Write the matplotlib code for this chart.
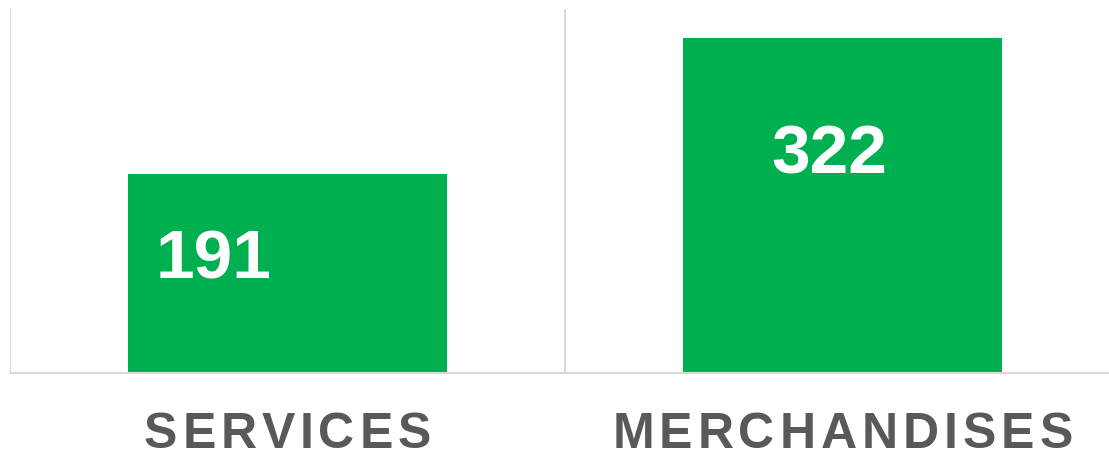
import matplotlib
matplotlib.use('Agg')
import matplotlib.pyplot as plt
from matplotlib.font_manager import FontProperties

categories = ['SERVICES', 'MERCHANDISES']
values = [191, 322]
# label anchor points inside the bars (data units), as placed in the source chart
label_x = [-0.134, -0.024]
label_y = [108.6, 209.6]

plt.rcParams['font.family'] = ['Liberation Sans', 'DejaVu Sans']

W, H = 1109, 459
fig = plt.figure(figsize=(W / 100, H / 100), dpi=100)
# axes spans px x 10..1120, y 9..373 (top-down); runs past the right edge like the source
ax = fig.add_axes([10 / W, (H - 373) / H, 1110 / W, 364 / H])

x = list(range(len(categories)))
ax.bar(x, values, width=0.573, color='#00B050', zorder=2)
ax.set_xlim(-0.5, len(categories) - 0.5)
ax.set_ylim(0, 350)

for xi, v, lx, ly in zip(x, values, label_x, label_y):
    ax.text(xi + lx, ly, str(v), ha='center', va='center', color='white',
            fontsize=50, fontweight='bold')

# category separators
for b in [-0.5, 0.5]:
    ax.axvline(b, color='#D9D9D9', lw=1.5, zorder=1)

for s in ['top', 'right', 'left']:
    ax.spines[s].set_visible(False)
ax.spines['bottom'].set_color('#D9D9D9')
ax.spines['bottom'].set_linewidth(1.5)
ax.set_yticks([])
ax.set_xticks([])

# category labels, drawn letter by letter to get the wide tracking
prop = FontProperties(family='Liberation Sans', weight='bold', size=36)
renderer = fig.canvas.get_renderer()
spacing = 5  # px between letters
baseline = 448  # px from top


def text_w(s):
    if not s:
        return 0
    w, h, d = renderer.get_text_width_height_descent(s, prop, ismath=False)
    return w


for xi, name in zip(x, categories):
    cx = ax.transData.transform((xi, 0))[0]
    total = text_w(name) + spacing * (len(name) - 1)
    left = cx - total / 2
    for i, ch in enumerate(name):
        px = left + text_w(name[:i]) + spacing * i
        fig.text(px / W, (H - baseline) / H, ch, fontproperties=prop,
                 color='#595959', ha='left', va='baseline')

fig.savefig('out.png', dpi=100)
